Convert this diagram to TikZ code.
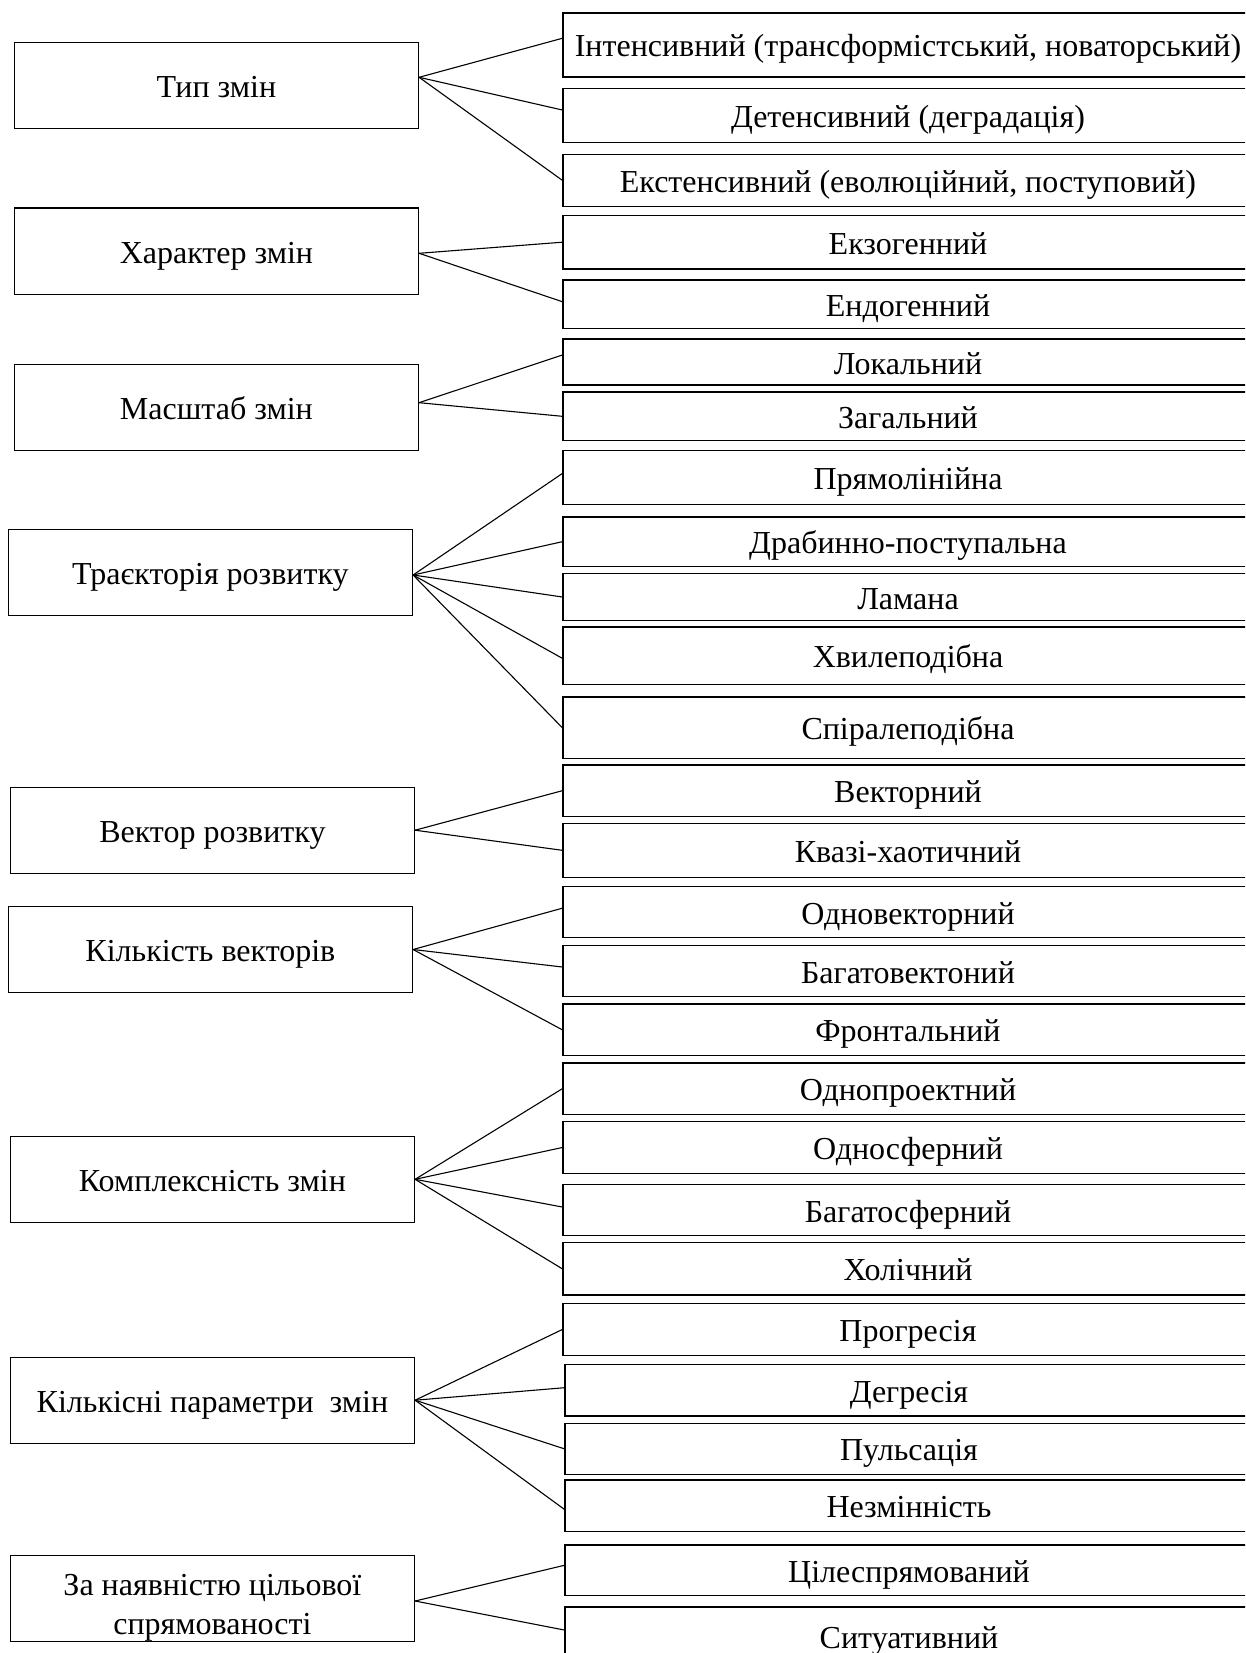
\documentclass[tikz,border=0pt]{standalone}
\usepackage{fontspec}
\setmainfont{Liberation Serif}
\begin{document}
\begin{tikzpicture}[x=1pt,y=-1pt,
  txt/.style={font=\fontsize{32}{39}\selectfont},
  lbox/.style={draw, line width=1.4pt, inner sep=0pt, minimum width=404pt, minimum height=86pt, txt, text height=24pt, text depth=0pt},
  rbox/.style={draw, line width=1.4pt, inner sep=0pt, minimum width=690pt, txt, text height=24pt, text depth=0pt},
  conn/.style={line width=1.1pt}]
\useasboundingbox (0,0) rectangle (1245,1653);
\clip (0,0) rectangle (1245,1653);
% left boxes
\node[lbox] (L1) at (216.4,85.5) {Тип змін};
\node[lbox] (L2) at (216.4,251.2) {Характер змін};
\node[lbox] (L3) at (216.4,407.5) {Масштаб змін};
\node[lbox] (L4) at (210.4,572.5) {Траєкторія розвитку};
\node[lbox] (L5) at (212.4,830.2) {Вектор розвитку};
\node[lbox] (L6) at (210.4,949.5) {Кількість векторів};
\node[lbox] (L7) at (212.4,1179.3) {Комплексність змін};
\node[lbox] (L8) at (212.4,1400.2) {Кількісні параметри\ \ змін};
\node[lbox] (L9) at (212.4,1598.5) {};
\node[txt, align=center, inner sep=0pt] (L9t) at ([yshift=-9.5pt]L9.center) {За наявністю цільової\\спрямованості};
% right boxes
\node[rbox, minimum height=64pt] (R1) at (908,45) {Інтенсивний (трансформістський, новаторський)};
\node[rbox, minimum height=54.4pt] (R2) at (908,115.5) {Детенсивний (деградація)};
\node[rbox, minimum height=52pt] (R3) at (908,180.3) {Екстенсивний (еволюційний, поступовий)};
\node[rbox, minimum height=53.7pt] (R4) at (908,242.2) {Екзогенний};
\node[rbox, minimum height=48.7pt] (R5) at (908,304.3) {Ендогенний};
\node[rbox, minimum height=46pt] (R6) at (908,362) {Локальний};
\node[rbox, minimum height=48.7pt] (R7) at (908,416.3) {Загальний};
\node[rbox, minimum height=53.6pt] (R8) at (908,477.5) {Прямолінійна};
\node[rbox, minimum height=49.3pt] (R9) at (908,541.7) {Драбинно-поступальна};
\node[rbox, minimum height=46.6pt] (R10) at (908,597) {Ламана};
\node[rbox, minimum height=57.3pt] (R11) at (908,655.7) {Хвилеподібна};
\node[rbox, minimum height=61.3pt] (R12) at (908,727.7) {Спіралеподібна};
\node[rbox, minimum height=51.3pt] (R13) at (908,790.7) {Векторний};
\node[rbox, minimum height=54pt] (R14) at (908,850.3) {Квазі-хаотичний};
\node[rbox, minimum height=51pt] (R15) at (908,912.2) {Одновекторний};
\node[rbox, minimum height=51.4pt] (R16) at (908,971) {Багатовектоний};
\node[rbox, minimum height=51.7pt] (R17) at (908,1029.8) {Фронтальний};
\node[rbox, minimum height=51.3pt] (R18) at (908,1088.7) {Однопроектний};
\node[rbox, minimum height=51.6pt] (R19) at (908,1147.5) {Односферний};
\node[rbox, minimum height=51.4pt] (R20) at (908,1210) {Багатосферний};
\node[rbox, minimum height=52.3pt] (R21) at (908,1268.8) {Холічний};
\node[rbox, minimum height=52.4pt] (R22) at (908,1329.5) {Прогресія};
\node[rbox, minimum height=51.7pt, minimum width=688pt] (R23) at (909,1390.2) {Дегресія};
\node[rbox, minimum height=51pt, minimum width=688pt] (R24) at (909,1448.8) {Пульсація};
\node[rbox, minimum height=51.7pt, minimum width=688pt] (R25) at (909,1505.8) {Незмінність};
\node[rbox, minimum height=50.7pt, minimum width=688pt] (R26) at (909,1570.3) {Цілеспрямований};
\node[rbox, minimum height=58pt, minimum width=688pt] (R27) at (909,1636) {Ситуативний};
% connectors
\draw[conn] ([yshift=8.2pt]L1.east) -- ([yshift=6.7pt]R1.west);
\draw[conn] ([yshift=8.2pt]L1.east) -- ([yshift=5.5pt]R2.west);
\draw[conn] ([yshift=8.2pt]L1.east) -- (R3.west);
\draw[conn] ([yshift=-2.1pt]L2.east) -- (R4.west);
\draw[conn] ([yshift=-2.1pt]L2.east) -- ([yshift=2.6pt]R5.west);
\draw[conn] ([yshift=4.8pt]L3.east) -- ([yshift=7pt]R6.west);
\draw[conn] ([yshift=4.8pt]L3.east) -- (R7.west);
\draw[conn] ([yshift=-2.5pt]L4.east) -- ([yshift=4pt]R8.west);
\draw[conn] ([yshift=-2.5pt]L4.east) -- (R9.west);
\draw[conn] ([yshift=-2.5pt]L4.east) -- (R10.west);
\draw[conn] ([yshift=-2.5pt]L4.east) -- ([yshift=-2.6pt]R11.west);
\draw[conn] ([yshift=-2.5pt]L4.east) -- (R12.west);
\draw[conn] (L5.east) -- (R13.west);
\draw[conn] (L5.east) -- (R14.west);
\draw[conn] (L6.east) -- ([yshift=4pt]R15.west);
\draw[conn] (L6.east) -- ([yshift=4pt]R16.west);
\draw[conn] (L6.east) -- (R17.west);
\draw[conn] (L7.east) -- (R18.west);
\draw[conn] (L7.east) -- (R19.west);
\draw[conn] (L7.east) -- ([yshift=3pt]R20.west);
\draw[conn] (L7.east) -- (R21.west);
\draw[conn] (L8.east) -- (R22.west);
\draw[conn] (L8.east) -- ([yshift=2.5pt]R23.west);
\draw[conn] (L8.east) -- (R24.west);
\draw[conn] (L8.east) -- ([yshift=-3.5pt]R25.west);
\draw[conn] ([yshift=-2.5pt]L9.east) -- ([yshift=5pt]R26.west);
\draw[conn] ([yshift=-2.5pt]L9.east) -- ([yshift=6pt]R27.west);
\end{tikzpicture}
\end{document}
